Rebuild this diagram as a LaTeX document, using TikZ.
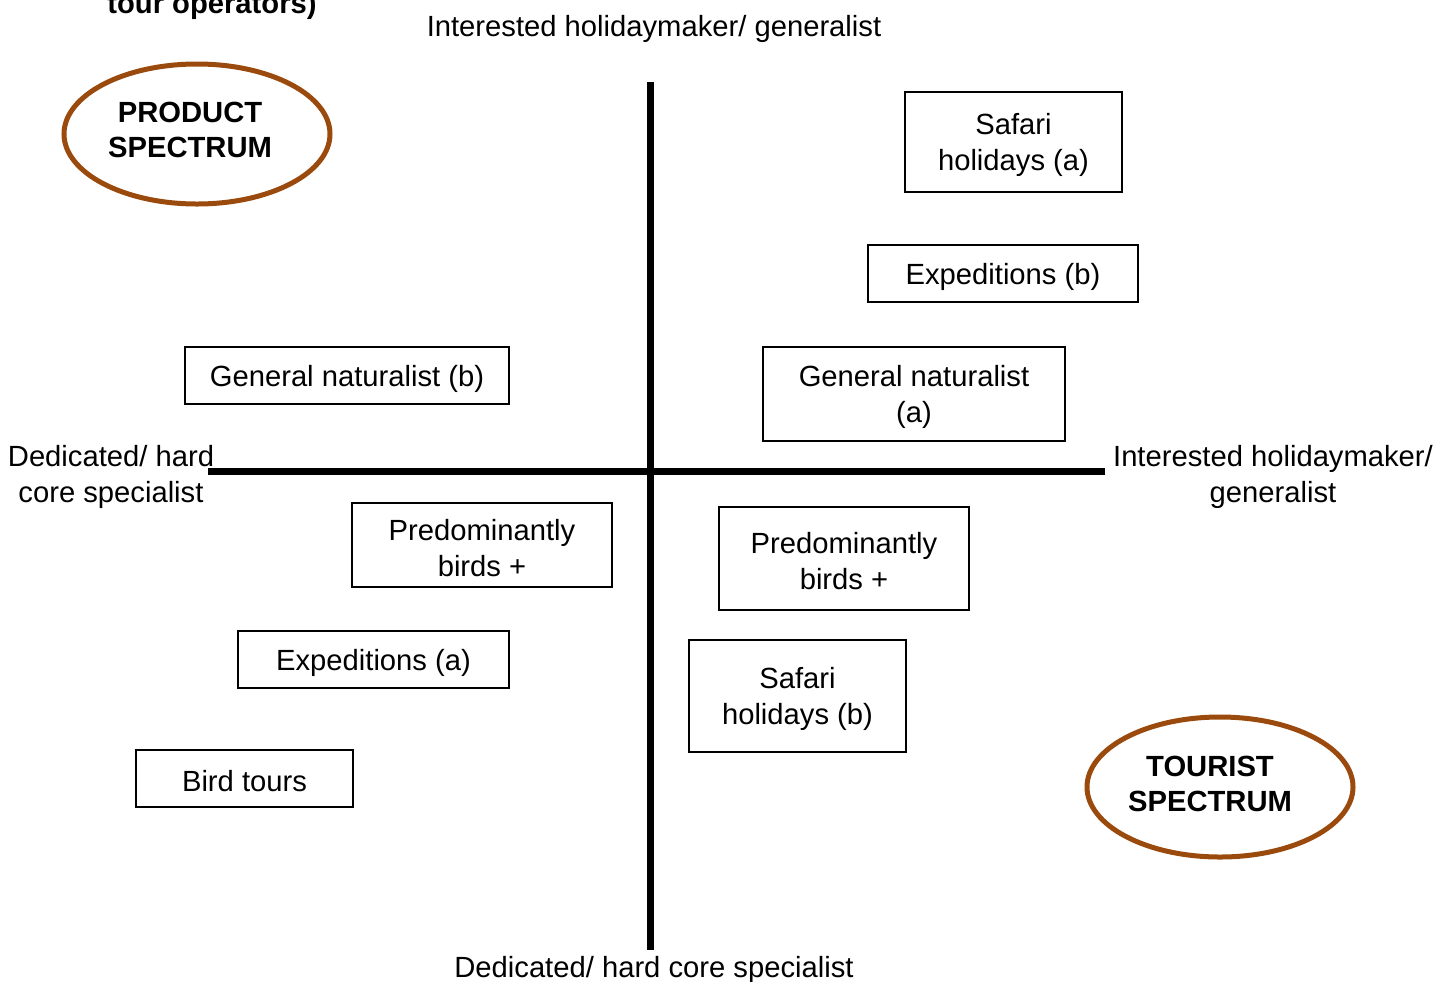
\documentclass[tikz,border=0pt]{standalone}
\usepackage{fontspec}
\setmainfont{Liberation Sans}
\usetikzlibrary{shapes.geometric}
\definecolor{ovalbrown}{HTML}{9A4A0C}
\tikzset{
  lbl/.style={align=center, inner sep=0pt, font=\fontsize{14.6}{18}\selectfont},
  boldlbl/.style={lbl, font=\fontsize{14.6}{17.5}\selectfont\bfseries},
  itembox/.style={draw=black, line width=1pt, inner sep=0pt},
  boxtext/.style={label={[lbl, yshift=-1.5pt]center:#1}},
  oval/.style={draw=ovalbrown, ellipse, line width=2.5pt, inner sep=0pt},
  axis/.style={line width=3.5pt, black}
}
\begin{document}
\begin{tikzpicture}[x=0.5pt, y=-0.5pt]
\useasboundingbox (0,0) rectangle (1451,981);
% cut-off heading
\node[boldlbl, anchor=base] (head) at (212,13) {tour operators)};
% axis labels
\node[lbl] (top) at (654,29) {Interested holidaymaker/ generalist};
\node[lbl] (bottom) at (654,970) {Dedicated/ hard core specialist};
\node[lbl] (left) at (111,477) {Dedicated/ hard\\core specialist};
\node[lbl] (right) at (1273,477) {Interested holidaymaker/\\generalist};
% axes
\coordinate (vt) at (650,82);
\coordinate (vb) at (650,950);
\coordinate (hl) at (208,471);
\coordinate (hr) at (1105,471);
\draw[axis] (vt) -- (vb);
\draw[axis] (hl) -- (hr);
% ovals
\node[oval, minimum width=133pt, minimum height=70pt] (prod) at (197,134) {};
\node[boldlbl] (prodt) at (190,130) {PRODUCT\\SPECTRUM};
\node[oval, minimum width=133pt, minimum height=70pt] (tour) at (1220,787) {};
\node[boldlbl] (tourt) at (1210,784) {TOURIST\\SPECTRUM};
% boxes
\node[itembox, minimum width=108.5pt, minimum height=50pt, boxtext={Safari\\holidays (a)}] (safa) at (1013.5,142) {};
\node[itembox, minimum width=135pt, minimum height=28.5pt, boxtext={Expeditions (b)}] (expb) at (1003,273.5) {};
\node[itembox, minimum width=162pt, minimum height=28.5pt, boxtext={General naturalist (b)}] (gnb) at (347,375.5) {};
\node[itembox, minimum width=151pt, minimum height=47pt, boxtext={General naturalist\\(a)}] (gna) at (914,394) {};
\node[itembox, minimum width=130pt, minimum height=42pt, boxtext={Predominantly\\birds +}] (pbl) at (482,545) {};
\node[itembox, minimum width=125pt, minimum height=51.5pt, boxtext={Predominantly\\birds +}] (pbr) at (844,558.5) {};
\node[itembox, minimum width=135.5pt, minimum height=28.5pt, boxtext={Expeditions (a)}] (expa) at (373.5,659.5) {};
\node[itembox, minimum width=108.5pt, minimum height=56pt, boxtext={Safari\\holidays (b)}] (safb) at (797.5,696) {};
\node[itembox, minimum width=108.5pt, minimum height=28.5pt, boxtext={Bird tours}] (bird) at (244.5,778.5) {};
\end{tikzpicture}
\end{document}
